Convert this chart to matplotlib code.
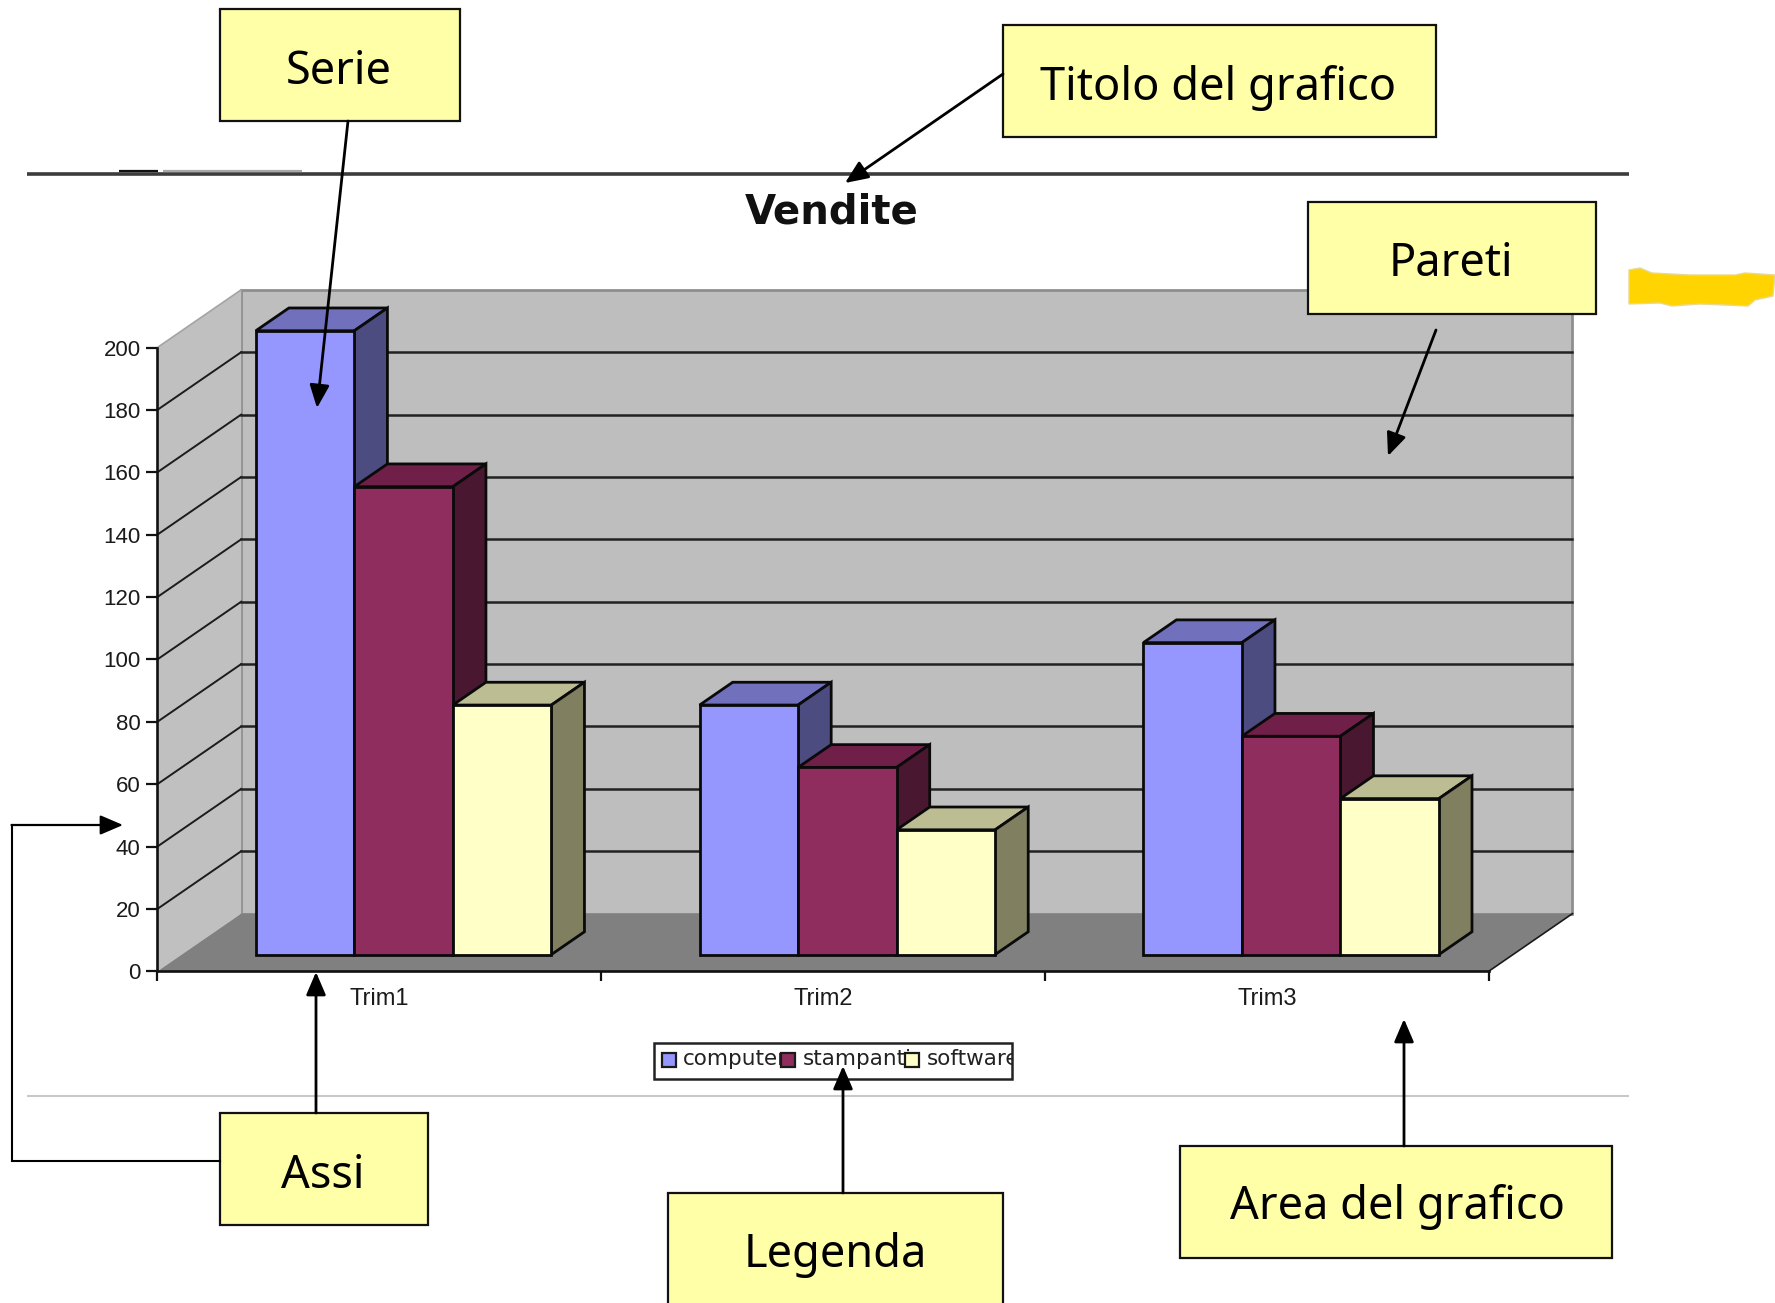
import matplotlib
matplotlib.use('Agg')
import matplotlib.pyplot as plt
from matplotlib.patches import Rectangle

categories = ['Trim1', 'Trim2', 'Trim3']
series_names = ['computer', 'stampanti', 'software']
computer = [200, 80, 100]
stampanti = [150, 60, 70]
software = [80, 40, 50]
y_ticks = [0, 20, 40, 60, 80, 100, 120, 140, 160, 180, 200]

front_colors = ['#9597FF', '#8F2D5F', '#FFFFC8']
top_colors = ['#7070BC', '#701F48', '#BDBD94']
side_colors = ['#4C4C80', '#4A1730', '#808060']

W, H = 1775, 1303
# oblique 3d look: how far the back of the chart is shifted, in data units
DX = 0.1888
DY = 18.5
BAR_W = 0.222
D_FRONT = 0.29
D_BACK = 0.685


def proj(x, y, d):
    return x + d * DX, y + d * DY


def face(ax, pts, color, z, ec='none', lw=0):
    xs = [p[0] for p in pts]
    ys = [p[1] for p in pts]
    ax.fill(xs, ys, facecolor=color, edgecolor=ec, linewidth=lw, zorder=z,
            clip_on=False, joinstyle='miter')


fig = plt.figure(figsize=(W / 100, H / 100), dpi=100, facecolor='white')

# chart axes: x in categories, y in sales
left, right, y0, y200 = 157.4, 1488.7, 971.3, 347.5
ax = fig.add_axes([left / W, 1 - y0 / H, (right - left) / W, (y0 - y200) / H])
ax.set_xlim(0, 3)
ax.set_ylim(0, 200)
ax.patch.set_visible(False)

# walls and floor
top = y_ticks[-1]
face(ax, [proj(0, 0, 1), proj(3, 0, 1), proj(3, top, 1), proj(0, top, 1)], '#BEBEBE', 1,
     ec='#8E8E8E', lw=2)
face(ax, [proj(0, 0, 0), proj(0, 0, 1), proj(0, top, 1), proj(0, top, 0)], '#C0C0C0', 1)
ax.plot(*zip(proj(0, top, 0), proj(0, top, 1)), color='#A4A4A4', lw=1.2, zorder=1.2, clip_on=False)
face(ax, [proj(0, 0, 0), proj(3, 0, 0), proj(3, 0, 1), proj(0, 0, 1)], '#808080', 1.5)
ax.plot(*zip(proj(3, 0, 0), proj(3, 0, 1)), color='#1A1A1A', lw=1.2, zorder=1.6, clip_on=False)

for v in y_ticks[1:-1]:
    ax.plot(*zip(proj(0, v, 0), proj(0, v, 1)), color='#1C1C1C', lw=1.4, zorder=1.8, clip_on=False)
    ax.plot(*zip(proj(0, v, 1), proj(3, v, 1)), color='#222222', lw=1.8, zorder=1.8, clip_on=False)

# bars, left to right so each one hides the side of the previous
all_series = [computer, stampanti, software]
gap = (1 - BAR_W * len(all_series)) / 2
z = 3
for c in range(len(categories)):
    for s, values in enumerate(all_series):
        x0 = c + gap + s * BAR_W
        x1 = x0 + BAR_W
        v = values[c]
        face(ax, [proj(x0, v, D_FRONT), proj(x0, v, D_BACK), proj(x1, v, D_BACK), proj(x1, v, D_FRONT)],
             top_colors[s], z, ec='#0A0A0A', lw=2)
        face(ax, [proj(x1, 0, D_FRONT), proj(x1, 0, D_BACK), proj(x1, v, D_BACK), proj(x1, v, D_FRONT)],
             side_colors[s], z, ec='#0A0A0A', lw=2)
        face(ax, [proj(x0, 0, D_FRONT), proj(x1, 0, D_FRONT), proj(x1, v, D_FRONT), proj(x0, v, D_FRONT)],
             front_colors[s], z + 0.5, ec='#0A0A0A', lw=2)
        z += 1

for side in ['top', 'right']:
    ax.spines[side].set_visible(False)
for side in ['left', 'bottom']:
    ax.spines[side].set_linewidth(1.9)
    ax.spines[side].set_color('#111111')
    ax.spines[side].set_zorder(2)

ax.set_yticks(y_ticks)
ax.set_xticks([0, 1, 2, 3])
ax.set_xticklabels([])
ax.set_xticks([0.5, 1.5, 2.5], minor=True)
ax.set_xticklabels(categories, minor=True)
ax.tick_params(axis='y', length=8, width=1.6, pad=4, labelsize=16, labelcolor='#1A1A1A', color='#111111')
ax.tick_params(axis='x', which='major', length=7, width=1.6, color='#111111')
ax.tick_params(axis='x', which='minor', length=0, pad=12, labelsize=17, labelcolor='#1A1A1A')
for lab in ax.get_xticklabels(minor=True) + ax.get_yticklabels():
    lab.set_family('Liberation Sans')

# overlay in pixel coordinates for the slide stuff
ov = fig.add_axes([0, 0, 1, 1], zorder=10)
ov.set_xlim(0, W)
ov.set_ylim(H, 0)
ov.axis('off')
ov.patch.set_visible(False)

# slide rules
ov.plot([27, 1629], [174, 174], color='#3C3C3C', lw=2.6, solid_capstyle='butt')
ov.plot([119, 158], [170.5, 170.5], color='#111111', lw=1.6, solid_capstyle='butt')
ov.plot([163, 302], [170.5, 170.5], color='#A8A8A8', lw=1.6, solid_capstyle='butt')
ov.plot([27, 1629], [1096, 1096], color='#C8C8C8', lw=1.5, solid_capstyle='butt')

ov.text(832, 213, 'Vendite', family='DejaVu Sans', weight='bold', fontsize=29,
        ha='center', va='center', color='#111111')

# legend of the chart, entries overlap and get cut by its box like in the original
leg_box = Rectangle((654, 1043), 358, 36, facecolor='white', edgecolor='#222222', lw=1.8)
ov.add_patch(leg_box)
leg_text_x = [683, 802.5, 926.5]
leg_swatch_x = [662, 780.5, 904.5]
for name, tx in zip(series_names, leg_text_x):
    t = ov.text(tx, 1059, name, family='DejaVu Sans', fontsize=15.5, ha='left', va='center', color='#222222')
    t.set_clip_on(True)
    t.set_clip_path(leg_box)
for col, sx in zip(front_colors, leg_swatch_x):
    ov.add_patch(Rectangle((sx, 1053), 14, 13.5, facecolor=col, edgecolor='#1A1A1A', lw=1.6, zorder=4))

# yellow brush stroke on the right edge
brush_x = [1629, 1640, 1652, 1690, 1735, 1745, 1775, 1773, 1755, 1748, 1700, 1672, 1660, 1629]
brush_y = [270, 268, 273, 275, 275, 273, 275, 296, 300, 306, 304, 306, 303, 304]
ov.fill(brush_x, brush_y, facecolor='#FFD400', edgecolor='#E8D890', lw=1)

# callout boxes
box_color = '#FFFFA8'
callouts = [
    ('Serie', 219.6, 9, 240, 112, 339, 72),
    ('Titolo del grafico', 1003, 25, 432.5, 112, 1218, 88),
    ('Pareti', 1307.5, 201.5, 288.5, 112, 1451, 264),
    ('Assi', 219.6, 1113, 208.4, 112, 323, 1176),
    ('Legenda', 668, 1193, 335, 130, 835, 1255),
    ('Area del grafico', 1179.6, 1145.6, 432.4, 112, 1397, 1207),
]
for label, bx, by, bw, bh, tx, ty in callouts:
    ov.add_patch(Rectangle((bx, by), bw, bh, facecolor=box_color, edgecolor='#111111', lw=1.6, zorder=5))
    ov.text(tx, ty, label, family='Noto Sans', fontsize=32.5, ha='center', va='center', color='black', zorder=6)

arrows = [
    ((348, 121), (317, 408)),
    ((1003, 74), (845, 183)),
    ((1436, 330), (1388, 456)),
    ((316, 1113), (316, 972)),
    ((843, 1193), (843, 1066)),
    ((1404, 1146), (1404, 1019)),
]
arrow_style = dict(arrowstyle='-|>,head_length=0.7,head_width=0.3', mutation_scale=20, lw=2,
                   color='black', shrinkA=0, shrinkB=0)
for start, end in arrows:
    ov.annotate('', xy=end, xytext=start, arrowprops=arrow_style, zorder=7)

# Assi second arrow goes round the left side
ov.plot([219.6, 11.5, 11.5], [1161, 1161, 825], color='black', lw=1.5, zorder=7, solid_joinstyle='miter')
ov.annotate('', xy=(123, 825), xytext=(11.5, 825), arrowprops=dict(arrow_style, lw=1.6), zorder=7)

fig.savefig('out.png', dpi=100, facecolor='white')
